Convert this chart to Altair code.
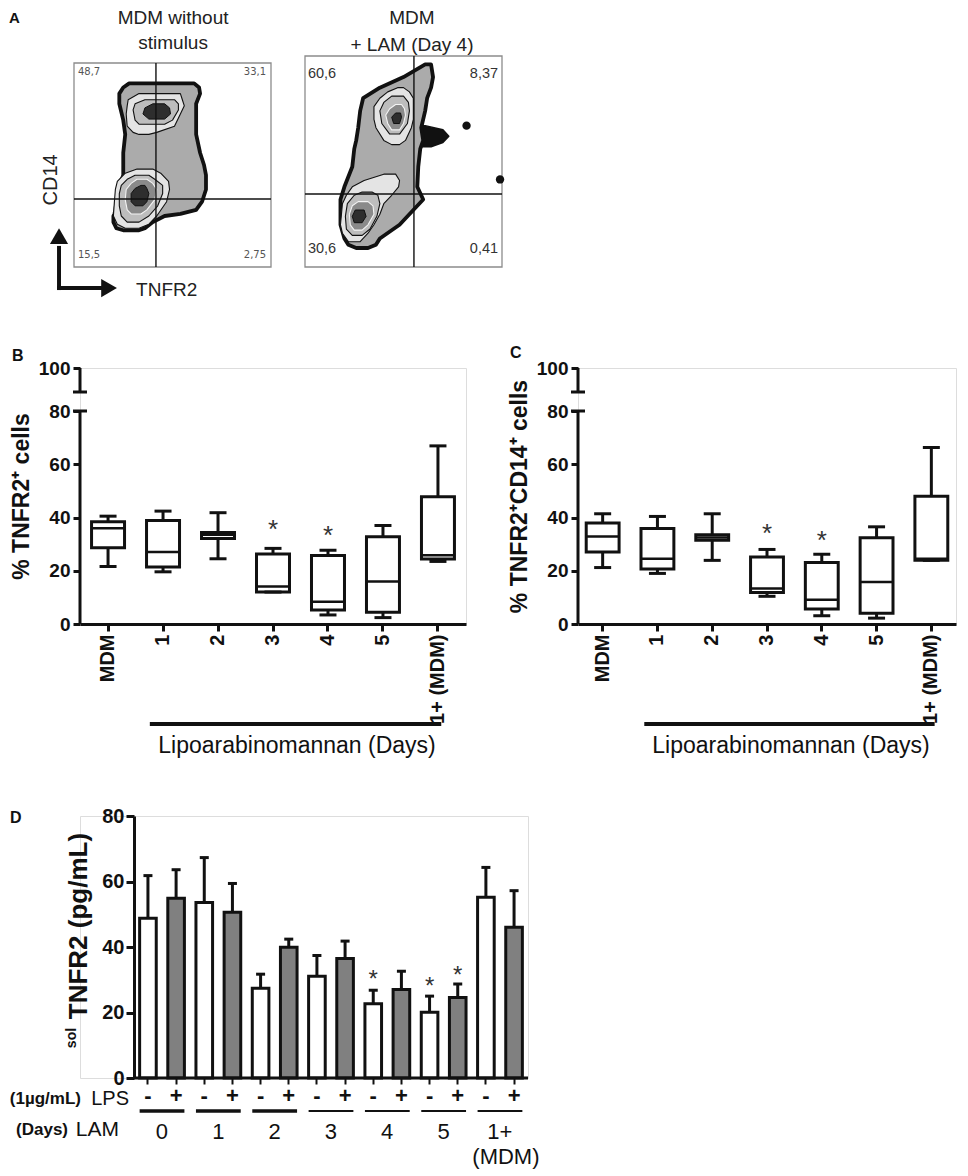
import altair as alt
import pandas as pd

FONT = "Liberation Sans"
INK = "#111111"

# ================= Panel A : flow cytometry contour outlines =================
# each shape = list of (y level in % of frame height, left x %, right x %)
A_left_title = ["MDM without", "stimulus"]
A_right_title = ["MDM", "+ LAM (Day 4)"]
A_left_quad = [41.6, 33.3]
A_right_quad = [55.3, 34.6]
A_left_pct = ["48,7", "33,1", "15,5", "2,75"]
A_right_pct = ["60,6", "8,37", "30,6", "0,41"]

A_left_outer = [(18, 25, 33), (19, 21.5, 36), (22, 20, 40), (25, 20, 46), (26, 20.5, 54),
                (28, 21, 62), (32, 21.5, 65), (38, 22.5, 67), (45, 25, 67), (50, 25, 66),
                (56, 25, 64), (65, 26, 62), (72, 25, 62), (80, 23, 62), (85, 23, 64),
                (88, 25, 63.5), (90, 28, 61)]
A_left_up1 = [(65, 33, 38), (66, 30, 42), (69, 27, 51), (75, 26.5, 54), (79, 27, 56), (82, 27.5, 55), (85, 33, 54)]
A_left_up2 = [(70, 33, 46), (72, 31, 50), (77, 30, 53), (80, 31, 53), (82, 36, 51)]
A_left_upcore = [(72.5, 38, 46), (75, 35, 49), (78, 36, 48.5), (80, 40, 46)]
A_left_lo1 = [(19, 26, 33), (21, 22, 38), (25, 20, 42), (32, 20.5, 47), (38, 21, 48.5), (42, 22, 48), (46, 26, 44), (48, 32, 40)]
A_left_lo2 = [(22, 27, 33), (25, 24, 38), (30, 23, 42.5), (36, 23, 45), (40, 24, 45), (43, 27, 41), (45, 31, 38)]
A_left_lo3 = [(26, 29, 34), (28, 27, 37), (33, 26, 41), (38, 26.5, 42), (41, 29, 40), (43, 32, 37)]
A_left_locore = [(30, 31, 35), (32, 29, 37), (36, 29, 38), (38.5, 31, 37), (40, 34, 36)]

A_right_outer = [(9, 26, 32), (10.5, 22, 36), (13.5, 20, 38), (20, 18, 48), (27, 18, 55), (32, 18, 60),
                 (38, 20, 57), (47.5, 24, 57.5), (56, 25, 58.5), (60, 26, 60), (66, 27, 59), (74, 28, 61),
                 (80, 29.5, 62), (85, 38, 64), (90, 50, 65), (96, 61, 64)]
A_right_spur = [(57, 59, 64), (59, 59, 70), (62, 59, 73), (65, 59, 70), (67, 59, 61)]
A_right_up1 = [(58, 44, 48), (60, 40, 51), (66, 36, 54), (70, 35, 55), (76, 35, 55), (80, 38, 55), (83, 42, 53), (85, 47, 50)]
A_right_up2 = [(63, 43, 48), (68, 39, 52), (74, 38, 53), (78, 40, 52.5), (81, 44, 50)]
A_right_up3 = [(65, 44, 48), (68, 42, 50), (72, 41, 51), (75, 43, 50.5), (77, 46, 49)]
A_right_upcore = [(68, 45, 48), (71, 44, 49), (73, 46, 48.5)]
A_right_lo1 = [(12, 22, 28), (16, 19, 32), (20, 18, 35), (25, 18.5, 38), (30, 19, 40), (34, 21, 44), (38, 24, 47.5), (41, 30, 48), (44, 40, 46)]
A_right_lo2 = [(15, 24, 29), (18, 21, 33), (24, 20.5, 36.5), (30, 21.5, 38), (34, 25, 37), (35.5, 29, 34)]
A_right_lo3 = [(17.5, 25, 29), (20, 23, 32), (25, 22.5, 35), (29, 24, 34.5), (31, 27, 32)]
A_right_locore = [(21, 25, 29), (24, 24, 31), (27, 25.5, 30)]
A_right_dots_x = [82, 99]
A_right_dots_y = [67, 41.5]

# ================= Panels B / C : box plots =================
box_cats = ["MDM", "1", "2", "3", "4", "5", "1+ (MDM)"]
B_min = [21.6, 19.6, 24.5, 12.0, 3.4, 2.4, 23.5]
B_q1 = [28.6, 21.4, 32.1, 12.0, 5.3, 4.4, 24.4]
B_med = [36.0, 27.0, 33.5, 14.1, 8.4, 16.0, 25.8]
B_q3 = [38.4, 38.9, 34.4, 26.3, 25.7, 32.8, 47.8]
B_max = [40.5, 42.4, 41.8, 28.4, 27.7, 37.0, 66.9]
B_star_cats = ["3", "4"]
B_star_vals = [37.4, 35.2]

C_min = [21.2, 19.0, 23.9, 10.4, 3.1, 2.2, 23.9]
C_q1 = [27.0, 20.7, 31.5, 11.8, 5.6, 4.0, 23.9]
C_med = [32.9, 24.5, 32.5, 13.3, 9.1, 15.8, 24.5]
C_q3 = [37.9, 35.9, 33.5, 25.2, 23.1, 32.4, 48.0]
C_max = [41.4, 40.4, 41.4, 28.0, 26.2, 36.5, 66.3]
C_star_cats = ["3", "4"]
C_star_vals = [36.1, 33.6]

# ================= Panel D : bar chart =================
D_days = ["0", "1", "2", "3", "4", "5", "1+"]
D_lps = ["-", "+"]
D_mean = [48.8, 54.9, 53.6, 50.6, 27.4, 39.9, 31.1, 36.5, 22.7, 27.0, 20.1, 24.6, 55.2, 46.0]
D_sem = [13.0, 8.7, 13.7, 8.8, 4.3, 2.5, 6.3, 5.3, 4.1, 5.6, 4.9, 4.1, 9.1, 11.2]
D_star_keys = ["4 -", "5 -", "5 +"]
D_star_vals = [31.3, 29.4, 32.8]

# ---------------------------------------------------------------------------
PX = 1.97          # pixels per frame unit in panel A
A_H = 211          # plot-area height of the panel A charts


def feat(geom):
    return {"type": "Feature", "properties": {}, "geometry": geom}


def poly(pts, k):
    left = [[xl, y * k] for y, xl, xr in pts]
    right = [[xr, y * k] for y, xl, xr in reversed(pts)]
    return feat({"type": "Polygon", "coordinates": [left + right + [left[0]]]})


def make_geo(tx):
    def geo(chart):
        return chart.project(type="identity", reflectY=True, scale=PX, translate=[tx, A_H])
    return geo


def flow_panel(geo, width, levels, k, frame_h, quad, pct, pct_pos, pct_font, pct_size, pct_color, titles, extra):
    layers = []
    frame = feat({"type": "Polygon", "coordinates": [[[0, 0], [100, 0], [100, frame_h], [0, frame_h], [0, 0]]]})
    layers.append(geo(alt.Chart(alt.Data(values=[frame])).mark_geoshape(
        fill="white", stroke="#8c8c8c", strokeWidth=1.3, clip=False)))
    for shapes, fill, stroke, sw in levels:
        layers.append(geo(alt.Chart(alt.Data(values=[poly(s, k) for s in shapes])).mark_geoshape(
            fill=fill, stroke=stroke, strokeWidth=sw, strokeJoin="round", clip=False)))
    layers += extra
    qx, qy = quad
    lines = [feat({"type": "LineString", "coordinates": [[qx, 0], [qx, frame_h]]}),
             feat({"type": "LineString", "coordinates": [[0, qy], [100, qy]]})]
    layers.append(geo(alt.Chart(alt.Data(values=lines)).mark_geoshape(
        filled=False, stroke=INK, strokeWidth=1.4, clip=False)))
    for al in ["left", "right"]:
        rows = [{"t": t, "x": p[0], "y": p[1]} for t, p in zip(pct, pct_pos) if p[2] == al]
        layers.append(geo(alt.Chart(pd.DataFrame(rows)).mark_text(
            align=al, baseline="middle", font=pct_font, fontSize=pct_size, color=pct_color, clip=False
        ).encode(longitude="x:Q", latitude="y:Q", text="t:N")))
    tdf = pd.DataFrame({"t": titles[0], "x": titles[1], "y": titles[2]})
    layers.append(geo(alt.Chart(tdf).mark_text(
        font=FONT, fontSize=19, color="#222222", align="center", baseline="middle", clip=False
    ).encode(longitude="x:Q", latitude="y:Q", text="t:N")))
    return alt.layer(*layers).properties(width=width, height=A_H)


def geo_text(geo, text, x, y, **kw):
    return geo(alt.Chart(pd.DataFrame({"x": [x], "y": [y]})).mark_text(
        text=text, font=FONT, clip=False, **kw).encode(longitude="x:Q", latitude="y:Q"))


LF = 204 / PX          # left frame height in units (frame is 197 x 204 px)
RF = 211 / PX          # right frame height in units (frame is 197 x 211 px)
L_TX = -6              # left frame offset from the column edge

geoL = make_geo(L_TX)
geoR = make_geo(0)

left_extra = [
    geoL(alt.Chart(alt.Data(values=[
        feat({"type": "LineString", "coordinates": [[-7.6, -11.7], [-7.6, 10.7]]}),
        feat({"type": "LineString", "coordinates": [[-8.6, -10.7], [14.2, -10.7]]}),
    ])).mark_geoshape(filled=False, stroke=INK, strokeWidth=4, clip=False)),
    geoL(alt.Chart(pd.DataFrame({"x": [-7.6], "y": [15.7]})).mark_point(
        shape="triangle-up", filled=True, size=330, color=INK, opacity=1, clip=False).encode(
        longitude="x:Q", latitude="y:Q")),
    geoL(alt.Chart(pd.DataFrame({"x": [17.8], "y": [-10.7]})).mark_point(
        shape="triangle-right", filled=True, size=330, color=INK, opacity=1, clip=False).encode(
        longitude="x:Q", latitude="y:Q")),
    geo_text(geoL, "CD14", -11.7, 44.2, fontSize=20, color="#222222", angle=270, align="center",
             baseline="middle"),
    geo_text(geoL, "TNFR2", 31.5, -11.7, fontSize=19, color="#222222", align="left", baseline="middle"),
    geo_text(geoL, "A", -33.0, 126.4, fontSize=15, fontWeight="bold", color=INK, align="left",
             baseline="middle"),
]
right_extra = [
    geoR(alt.Chart(pd.DataFrame({"x": A_right_dots_x, "y": [v * RF / 100 for v in A_right_dots_y]})).mark_point(
        shape="circle", filled=True, size=70, color=INK, opacity=1, clip=False).encode(
        longitude="x:Q", latitude="y:Q")),
]

OUTER = ("#ababab", INK, 3.8)
R1 = ("#e4e4e4", INK, 1.1)
R2 = ("#bdbdbd", INK, 1.1)
R3 = ("#8a8a8a", "#f4f4f4", 1.1)
CORE = ("#2e2e2e", INK, 1.0)

left_levels = [
    ([A_left_outer],) + OUTER,
    ([A_left_up1, A_left_lo1],) + R1,
    ([A_left_up2, A_left_lo2],) + R2,
    ([A_left_lo3],) + R3,
    ([A_left_upcore, A_left_locore],) + CORE,
]
right_levels = [
    ([A_right_spur], INK, INK, 1.5),
    ([A_right_outer],) + OUTER,
    ([A_right_up1, A_right_lo1],) + R1,
    ([A_right_up2, A_right_lo2],) + R2,
    ([A_right_up3, A_right_lo3],) + R3,
    ([A_right_upcore, A_right_locore],) + CORE,
]

left_pct_pos = [(2, 99, "left"), (97.5, 99, "right"), (2, 6.1, "left"), (97.5, 6.1, "right")]
right_pct_pos = [(1.5, 98, "left"), (98, 98, "right"), (1.5, 9.1, "left"), (98, 9.1, "right")]

flowL = flow_panel(geoL, 197 + L_TX, left_levels, LF / 100, LF, [A_left_quad[0], A_left_quad[1] * LF / 100],
                   A_left_pct, left_pct_pos, "DejaVu Sans", 10, "#555555",
                   (A_left_title, [50.3, 50.3], [126.4, 113.7]), left_extra)
flowR = flow_panel(geoR, 197, right_levels, RF / 100, RF, [A_right_quad[0], A_right_quad[1] * RF / 100],
                   A_right_pct, right_pct_pos, FONT, 14.5, "#333333",
                   (A_right_title, [54.3, 54.3], [126.4, 112.7]), right_extra)
rowA = alt.hconcat(flowL, flowR, spacing=28)


def box_panel(mins, q1s, meds, q3s, maxs, star_cats, star_vals, ytitle, letter, letter_v, W, p_outer):
    xs = alt.Scale(domain=box_cats, paddingInner=0.4, paddingOuter=p_outer)
    ys = alt.Scale(domain=[0, 80, 90, 100], range=[256, 43, 24, 0], nice=False, zero=False)
    xax = alt.Axis(title=None, labelAngle=270, labelFont=FONT, labelFontSize=20, labelFontWeight="bold",
                   labelColor=INK, domainWidth=3, domainColor=INK, tickWidth=3, tickSize=7, tickColor=INK,
                   labelPadding=3)
    yax = alt.Axis(values=[0, 20, 40, 60, 80, 100], domain=False, tickWidth=3, tickSize=7, tickColor=INK,
                   labelFont=FONT, labelFontSize=19, labelFontWeight="bold", labelColor=INK, labelPadding=3,
                   title=ytitle, titleFont=FONT, titleFontSize=23, titleFontWeight="bold", titleColor=INK,
                   titlePadding=5, grid=False)

    def X(f, **kw):
        return alt.X(f, scale=xs, axis=xax, sort=box_cats, **kw)

    def Y(f):
        return alt.Y(f, scale=ys, axis=yax)

    df = pd.DataFrame({"cat": box_cats, "lo": mins, "q1": q1s, "med": meds, "q3": q3s, "hi": maxs})
    base = alt.Chart(df)
    bw = W / (len(box_cats) - 0.4 + 2 * p_outer) * 0.6
    layers = [
        alt.Chart(pd.DataFrame({"lo": [0, 90], "hi": [80, 100]})).mark_rule(color=INK, strokeWidth=3).encode(
            x=alt.value(0), y=Y("lo:Q"), y2="hi:Q"),
        alt.Chart(pd.DataFrame({"v": [80, 90]})).mark_rule(color=INK, strokeWidth=3).encode(
            x=alt.value(-7), x2=alt.value(7), y=Y("v:Q")),
        base.mark_rule(color=INK, strokeWidth=3).encode(x=X("cat:N"), y=Y("lo:Q"), y2="hi:Q"),
        base.mark_bar(fill="white", stroke=INK, strokeWidth=3).encode(x=X("cat:N"), y=Y("q1:Q"), y2="q3:Q"),
        base.mark_tick(color=INK, thickness=2.5, size=bw, opacity=1).encode(x=X("cat:N"), y=Y("med:Q")),
        base.mark_tick(color=INK, thickness=3, size=17, opacity=1).encode(x=X("cat:N"), y=Y("hi:Q")),
        base.mark_tick(color=INK, thickness=3, size=17, opacity=1).encode(x=X("cat:N"), y=Y("lo:Q")),
        alt.Chart(pd.DataFrame({"cat": star_cats, "v": star_vals})).mark_text(
            text="*", font=FONT, fontSize=26, color="#333333", baseline="middle", dy=6).encode(
            x=X("cat:N"), y=Y("v:Q")),
        alt.Chart(pd.DataFrame({"a": ["1"], "b": ["1+ (MDM)"], "v": [-37.6]})).mark_rule(
            color=INK, strokeWidth=4).encode(
            x=X("a:N", bandPosition=0.1), x2=alt.X2("b:N", bandPosition=0.6), y=Y("v:Q")),
        alt.Chart(pd.DataFrame({"cat": ["3"], "v": [-45.8]})).mark_text(
            text="Lipoarabinomannan (Days)", font=FONT, fontSize=23, color=INK, baseline="middle", dx=24
        ).encode(x=X("cat:N"), y=Y("v:Q")),
        alt.Chart(pd.DataFrame({"v": [letter_v]})).mark_text(
            text=letter, font=FONT, fontSize=16, fontWeight="bold", color=INK, align="left", baseline="middle"
        ).encode(x=alt.value(-68), y=Y("v:Q")),
    ]
    return alt.layer(*layers).properties(width=W, height=256)


panelB = box_panel(B_min, B_q1, B_med, B_q3, B_max, B_star_cats, B_star_vals,
                   "% TNFR2⁺ cells", "B", 105, 386, 0.21)
panelC = box_panel(C_min, C_q1, C_med, C_q3, C_max, C_star_cats, C_star_vals,
                   "% TNFR2⁺CD14⁺ cells", "C", 106.2, 378, 0.15)
rowBC = alt.hconcat(panelB, panelC, spacing=40)

# ----- Panel D -----
D_SHIFT = 54           # the D axis sits this far right of the column's left edge
D_W = 394
keys = [f"{d} {l}" for d in D_days for l in D_lps]
d_df = pd.DataFrame({
    "key": keys,
    "lps": [l for d in D_days for l in D_lps],
    "mean": D_mean,
    "upper": [m + s for m, s in zip(D_mean, D_sem)],
})
xsD = alt.Scale(domain=keys, range=[D_SHIFT, D_SHIFT + D_W], paddingInner=0.41, paddingOuter=0.2)
ysD = alt.Scale(domain=[0, 80], nice=False)
xaxD = alt.Axis(title=None, labelExpr="split(datum.label, ' ')[1]", labelAngle=0, labelFont=FONT,
                labelFontSize=22, labelFontWeight="bold", labelColor=INK, domain=False,
                tickWidth=2, tickSize=6, tickColor=INK, labelPadding=1)
yaxD = alt.Axis(values=[0, 20, 40, 60, 80], title=None, domainWidth=3, domainColor=INK, tickWidth=3,
                tickSize=8, tickColor=INK, labelFont=FONT, labelFontSize=20, labelFontWeight="bold",
                labelColor=INK, labelPadding=2, grid=False, offset=-D_SHIFT)


def XD(f, **kw):
    return alt.X(f, scale=xsD, axis=xaxD, sort=keys, **kw)


def YD(f):
    return alt.Y(f, scale=ysD, axis=yaxD)


groups = pd.DataFrame({"g": D_days, "a": [f"{d} -" for d in D_days], "b": [f"{d} +" for d in D_days]})
groups["v"] = -10.1
thick_groups = ["0", "1", "2"]


def d_text(text, v, xpix, **kw):
    return alt.Chart(pd.DataFrame({"v": [v]})).mark_text(text=text, font=FONT, color=INK, **kw).encode(
        x=alt.value(xpix + D_SHIFT), y=YD("v:Q"))


d_layers = [
    alt.Chart(d_df).mark_bar(stroke=INK, strokeWidth=3).encode(
        x=XD("key:N"), y=YD("mean:Q"),
        color=alt.Color("lps:N", scale=alt.Scale(domain=D_lps, range=["#ffffff", "#808080"]), legend=None)),
    alt.Chart(pd.DataFrame({"v": [0]})).mark_rule(color=INK, strokeWidth=3).encode(
        x=alt.value(D_SHIFT), x2=alt.value(D_SHIFT + D_W), y=YD("v:Q")),
    alt.Chart(d_df).mark_rule(color=INK, strokeWidth=3).encode(x=XD("key:N"), y=YD("mean:Q"), y2="upper:Q"),
    alt.Chart(d_df).mark_tick(color=INK, thickness=3, size=9, opacity=1).encode(x=XD("key:N"), y=YD("upper:Q")),
    alt.Chart(pd.DataFrame({"key": D_star_keys, "v": D_star_vals})).mark_text(
        text="*", font=FONT, fontSize=24, color="#333333", baseline="middle", dy=5).encode(
        x=XD("key:N"), y=YD("v:Q")),
    alt.Chart(groups).transform_filter(alt.FieldOneOfPredicate(field="g", oneOf=thick_groups)).mark_rule(
        color=INK, strokeWidth=3.5).encode(
        x=XD("a:N", bandPosition=0), x2=alt.X2("b:N", bandPosition=1), y=YD("v:Q")),
    alt.Chart(groups).transform_filter(~alt.FieldOneOfPredicate(field="g", oneOf=thick_groups)).mark_rule(
        color=INK, strokeWidth=2).encode(
        x=XD("a:N", bandPosition=0), x2=alt.X2("b:N", bandPosition=1), y=YD("v:Q")),
    alt.Chart(groups.assign(v=-16.6)).mark_text(
        font=FONT, fontSize=22, color=INK, baseline="middle", dx=14).encode(
        x=XD("a:N"), y=YD("v:Q"), text="g:N"),
    alt.Chart(pd.DataFrame({"a": ["1+ -"], "v": [-24.0]})).mark_text(
        text="(MDM)", font=FONT, fontSize=22, color=INK, baseline="middle", dx=20).encode(
        x=XD("a:N"), y=YD("v:Q")),
    d_text("D", 79.4, -124, fontSize=16, fontWeight="bold", align="left", baseline="middle"),
    d_text("TNFR2 (pg/mL)", 46.4, -55, fontSize=26, fontWeight="bold", angle=270, align="center",
           baseline="middle"),
    d_text("sol", 12.2, -62, fontSize=14, fontWeight="bold", angle=270, align="center", baseline="middle"),
    d_text("(1µg/mL)", -6.5, -53, fontSize=17, fontWeight="bold", align="right", baseline="middle"),
    d_text("LPS", -6.5, -5, fontSize=20, align="right", baseline="middle"),
    d_text("(Days)", -15.8, -66, fontSize=17, fontWeight="bold", align="right", baseline="middle"),
    d_text("LAM", -15.8, -15, fontSize=21, align="right", baseline="middle"),
]
panelD = alt.layer(*d_layers).properties(width=D_SHIFT + D_W, height=262)

rowsAB = alt.vconcat(rowA, rowBC, spacing=43)
chart = alt.vconcat(rowsAB, panelD, spacing=46).properties(
    padding={"left": 0, "top": 0, "right": 0, "bottom": 0}, background="white"
).configure_view(strokeWidth=0).configure(font=FONT)

chart.save("out.html", embed_options={"renderer": "svg", "actions": False})
